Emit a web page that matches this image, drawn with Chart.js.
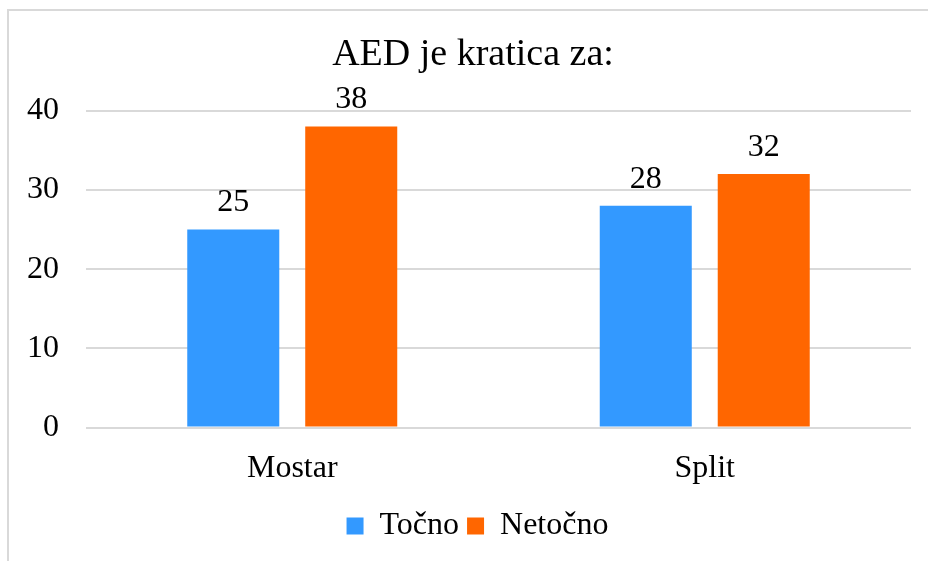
<!DOCTYPE html>
<html>
<head>
<meta charset="utf-8">
<script src="https://cdn.jsdelivr.net/npm/chart.js@4/dist/chart.umd.min.js"></script>
<style>
  html, body { margin: 0; padding: 0; background: #fff; }
  #wrap { position: relative; width: 928px; height: 561px; overflow: hidden; }
  #frame { position: absolute; left: 7px; top: 9px; width: 1000px; height: 700px; border: 2px solid #d9d9d9; box-sizing: border-box; }
  canvas { position: absolute; left: 0; top: 0; }
</style>
</head>
<body>
<div id="wrap">
  <div id="frame"></div>
  <canvas id="chart" width="928" height="561"></canvas>
</div>
<script>
const title = 'AED je kratica za:';
const cities = ['Mostar', 'Split'];
const tocno = [25, 28];
const netocno = [38, 32];
const seriesNames = ['Točno', 'Netočno'];

const FONT = '"Liberation Serif", "Times New Roman", serif';

// value labels above bars
const barValues = {
  id: 'barValues',
  afterDatasetsDraw(chart) {
    const ctx = chart.ctx;
    ctx.save();
    ctx.font = `32px ${FONT}`;
    ctx.fillStyle = '#000';
    ctx.textAlign = 'center';
    ctx.textBaseline = 'alphabetic';
    chart.data.datasets.forEach((ds, i) => {
      chart.getDatasetMeta(i).data.forEach((bar, j) => {
        ctx.fillText(String(ds.data[j]), bar.x, bar.y - 18);
      });
    });
    ctx.restore();
  },
};

// the original title and legend sit a bit right of the canvas centre
const shiftBoxes = {
  id: 'shiftBoxes',
  afterLayout(chart) {
    if (chart.titleBlock) chart.titleBlock.left = 35;
    if (chart.legend) chart.legend.left = 44;
  },
};

new Chart(document.getElementById('chart'), {
  type: 'bar',
  data: {
    labels: cities,
    datasets: [
      { label: seriesNames[0], data: tocno, backgroundColor: '#3399ff' },
      { label: seriesNames[1], data: netocno, backgroundColor: '#ff6600' },
    ],
  },
  options: {
    responsive: false,
    animation: false,
    devicePixelRatio: 1,
    categoryPercentage: 0.572,
    barPercentage: 0.78,
    layout: { padding: { left: 0, right: 17, top: 0, bottom: 9 } },
    plugins: {
      title: {
        display: true,
        text: title,
        color: '#000',
        font: { family: FONT, size: 38, weight: 'normal' },
        padding: { top: 32, bottom: 33 },
      },
      legend: {
        position: 'bottom',
        labels: {
          color: '#000',
          font: { family: FONT, size: 32 },
          boxWidth: 17,
          boxHeight: 17,
          padding: 8,
        },
      },
      tooltip: { enabled: false },
    },
    scales: {
      x: {
        grid: { display: false },
        border: { display: false },
        ticks: { color: '#000', font: { family: FONT, size: 32 }, padding: 14 },
      },
      y: {
        min: 0,
        max: 40,
        ticks: { stepSize: 10, color: '#000', font: { family: FONT, size: 32 }, padding: 27 },
        grid: { color: '#d9d9d9', lineWidth: 2, drawTicks: false },
        border: { display: false },
      },
    },
  },
  plugins: [barValues, shiftBoxes],
});
</script>
</body>
</html>
